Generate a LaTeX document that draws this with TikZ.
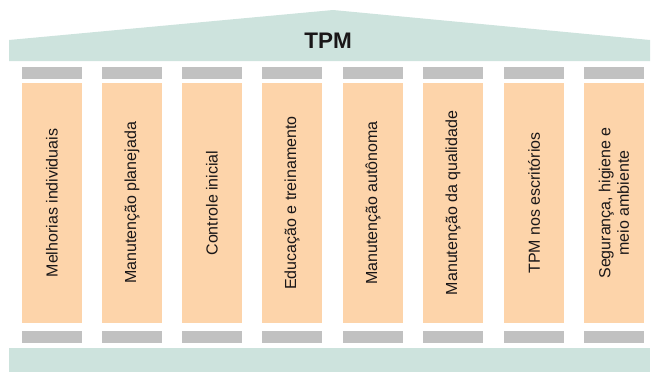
\documentclass[tikz,border=0pt]{standalone}
\usepackage{fontspec}
\setmainfont{Liberation Sans}
\definecolor{roofc}{HTML}{CDE3DD}
\definecolor{capc}{HTML}{C1C1C1}
\definecolor{colc}{HTML}{FDD4AA}
\definecolor{txtc}{HTML}{1A1718}
\tikzset{
  pillar/.style={fill=colc, draw=none, rotate=90, minimum width=240pt, minimum height=60pt,
    inner sep=0pt, align=center, font=\fontsize{16}{18.5}\selectfont, text=txtc},
  capbox/.style={fill=capc, draw=none, minimum width=60pt, minimum height=11.5pt, inner sep=0pt},
}
\begin{document}
\begin{tikzpicture}[x=1pt,y=-1pt]
\useasboundingbox (0,0) rectangle (652,372);
% roof
\fill[roofc] (9,61) -- (9,40) -- (333,10) -- (650,40) -- (650,61) -- cycle;
\node[font=\fontsize{22.5}{24}\selectfont\bfseries, text=txtc] (tpm) at (328,41) {TPM};
% base
\node[fill=roofc, draw=none, minimum width=641pt, minimum height=24pt, inner sep=0pt, anchor=north west] (base) at (9,348) {};
% columns
\foreach \x/\name/\txt in {22/c1/{Melhorias individuais},102/c2/{Manutenção planejada},182/c3/{Controle inicial},262/c4/{Educação e treinamento},343/c5/{Manutenção autônoma},423/c6/{Manutenção da qualidade},504/c7/{TPM nos escritórios},584/c8/{Segurança, higiene e\\meio ambiente}}{
  \node[capbox, anchor=north west] (\name top) at (\x,67) {};
  \node[pillar] (\name) at (\x+30,203) {\txt};
  \node[capbox, anchor=north west] (\name bot) at (\x,331) {};
}
\end{tikzpicture}
\end{document}
